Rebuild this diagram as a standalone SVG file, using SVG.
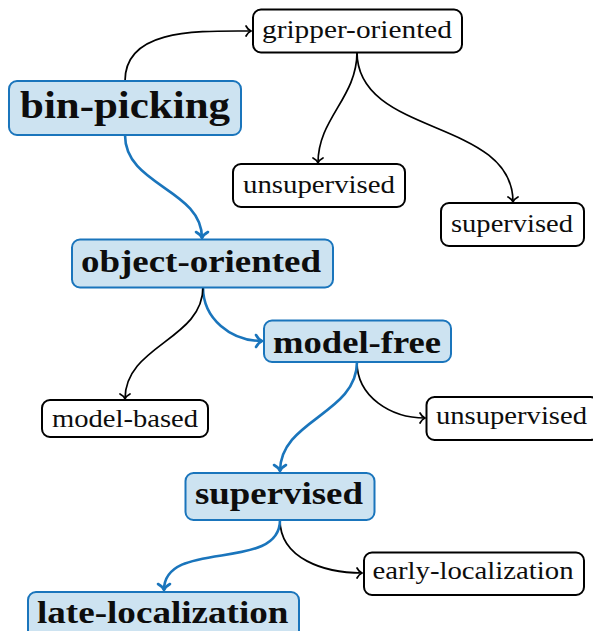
<svg xmlns="http://www.w3.org/2000/svg" width="593" height="631" viewBox="0 0 593 631">
<defs>
<style>
text{font-family:'Liberation Serif','Times New Roman',serif;fill:#0d0d0d}
.bn rect{fill:#cde3f1;stroke:#1a75bc;stroke-width:2}
.wn rect{fill:#ffffff;stroke:#000000;stroke-width:2}
.bn text{font-weight:bold;font-size:31px}
.wn text{font-size:25px}
.k{fill:none;stroke:#000;stroke-width:1.7;marker-end:url(#ak)}
.b{fill:none;stroke:#1a75bc;stroke-width:2.6;marker-end:url(#ab)}
</style>
<marker id="ak" markerUnits="userSpaceOnUse" viewBox="-8 -7 10 14" markerWidth="10" markerHeight="14" refX="0" refY="0" orient="auto" overflow="visible">
<path d="M-5,-5 C-3.5,-2 -1.5,-0.6 0,0 C-1.5,0.6 -3.5,2 -5,5" fill="none" stroke="#000" stroke-width="1.7" stroke-linecap="round"/>
</marker>
<marker id="ab" markerUnits="userSpaceOnUse" viewBox="-8 -7 10 14" markerWidth="10" markerHeight="14" refX="0" refY="0" orient="auto" overflow="visible">
<path d="M-6,-6 C-4,-2.4 -1.8,-0.7 0,0 C-1.8,0.7 -4,2.4 -6,6" fill="none" stroke="#1a75bc" stroke-width="2.6" stroke-linecap="round"/>
</marker>
</defs>
<g id="connectors">
<path class="k" d="M125,81 C125,28 198,31 251,31"/>
<path class="b" d="M125,135 C125,186 202,189 202,238"/>
<path class="k" d="M357,52 C357,98 318,118 318,163"/>
<path class="k" d="M357,52 C357,137 513,118 513,202"/>
<path class="b" d="M203,287 C203,319 231,341 262,341"/>
<path class="k" d="M203,287 C203,340 125,345 125,399"/>
<path class="k" d="M357,362 C357,397 391,418 425,418"/>
<path class="b" d="M357,362 C357,414 280,420 280,471"/>
<path class="k" d="M280,520 C280,559 325,573 362,573"/>
<path class="b" d="M280,520 C280,573 164,538 164,590"/>
</g>
<g id="bin-picking" class="bn">
<rect x="9" y="81" width="232" height="54" rx="8"/>
<text x="20" y="118" textLength="210" lengthAdjust="spacingAndGlyphs" style="font-size:37px">bin-picking</text>
</g>
<g id="gripper-oriented" class="wn">
<rect x="253" y="9.5" width="209" height="43" rx="8"/>
<text x="262" y="38" textLength="190" lengthAdjust="spacingAndGlyphs">gripper-oriented</text>
</g>
<g id="unsupervised-1" class="wn">
<rect x="233" y="164" width="172" height="43" rx="8"/>
<text x="243" y="193" textLength="152" lengthAdjust="spacingAndGlyphs">unsupervised</text>
</g>
<g id="supervised-1" class="wn">
<rect x="441" y="203" width="143" height="43" rx="8"/>
<text x="451" y="232" textLength="122" lengthAdjust="spacingAndGlyphs">supervised</text>
</g>
<g id="object-oriented" class="bn">
<rect x="72" y="239.5" width="261" height="48" rx="8"/>
<text x="81" y="272" textLength="240" lengthAdjust="spacingAndGlyphs">object-oriented</text>
</g>
<g id="model-free" class="bn">
<rect x="264" y="320.5" width="187" height="41.5" rx="8"/>
<text x="273" y="353" textLength="168" lengthAdjust="spacingAndGlyphs">model-free</text>
</g>
<g id="model-based" class="wn">
<rect x="42" y="400" width="166" height="37" rx="8"/>
<text x="52" y="427" textLength="146" lengthAdjust="spacingAndGlyphs">model-based</text>
</g>
<g id="unsupervised-2" class="wn">
<rect x="426.5" y="397" width="172" height="43" rx="8"/>
<text x="436" y="424" textLength="151" lengthAdjust="spacingAndGlyphs">unsupervised</text>
</g>
<g id="supervised-2" class="bn">
<rect x="185.5" y="473" width="189" height="47" rx="8"/>
<text x="195" y="504" textLength="168" lengthAdjust="spacingAndGlyphs">supervised</text>
</g>
<g id="early-localization" class="wn">
<rect x="364" y="552.5" width="220" height="42.5" rx="8"/>
<text x="372.5" y="579" textLength="201" lengthAdjust="spacingAndGlyphs">early-localization</text>
</g>
<g id="late-localization" class="bn">
<rect x="28" y="592" width="271" height="50" rx="8"/>
<text x="37" y="623" textLength="251.5" lengthAdjust="spacingAndGlyphs">late-localization</text>
</g>
</svg>
